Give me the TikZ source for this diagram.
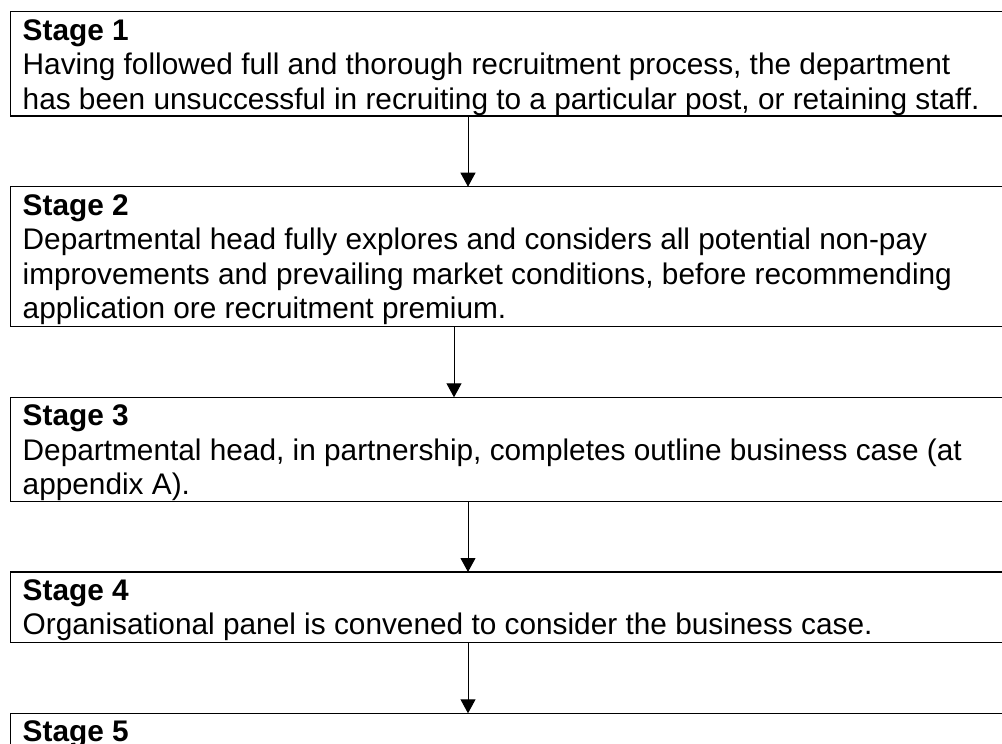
\documentclass[tikz,border=0pt]{standalone}
\usepackage{fontspec}
\setmainfont{Liberation Sans}
\usetikzlibrary{arrows.meta}
\newcommand\stagetext[2]{\parbox[b][#1][t]{560pt}{\fontsize{14.9pt}{17.33pt}\selectfont\leftskip=6pt\rule{0pt}{14.15pt}#2}}
\begin{document}
\begin{tikzpicture}[x=0.5pt,y=-0.5pt,
  stagebox/.style={draw, line width=0.7pt, anchor=north west, inner sep=0pt, outer sep=0pt},
  flow/.style={draw, line width=0.5pt, -{Triangle[width=7.5pt,length=7pt]}}]
\useasboundingbox (0,0) rectangle (1002,744);
\clip (0,0) rectangle (1002,744);
\node[stagebox] (s1) at (10.7,11.7) {\stagetext{52.15pt}{\textbf{Stage 1}\\Having followed full and thorough recruitment process, the department\\has been unsuccessful in recruiting to a particular post, or retaining staff.}};
\node[stagebox] (s2) at (10.7,186.7) {\stagetext{70pt}{\textbf{Stage 2}\\Departmental head fully explores and considers all potential non-pay\\improvements and prevailing market conditions, before recommending\\application ore recruitment premium.}};
\node[stagebox] (s3) at (10.7,397.3) {\stagetext{52.2pt}{\textbf{Stage 3}\\Departmental head, in partnership, completes outline business case (at\\appendix A).}};
\node[stagebox] (s4) at (10.7,572) {\stagetext{35.35pt}{\textbf{Stage 4}\\Organisational panel is convened to consider the business case.}};
\node[stagebox] (s5) at (10.7,713.3) {\stagetext{70pt}{\textbf{Stage 5}}};
\coordinate (ax) at (468,0);
\coordinate (bx) at (454,0);
\draw[flow] (s1.south -| ax) -- (s2.north -| ax);
\draw[flow] (s2.south -| bx) -- (s3.north -| bx);
\draw[flow] (s3.south -| ax) -- (s4.north -| ax);
\draw[flow] (s4.south -| ax) -- (s5.north -| ax);
\end{tikzpicture}
\end{document}
